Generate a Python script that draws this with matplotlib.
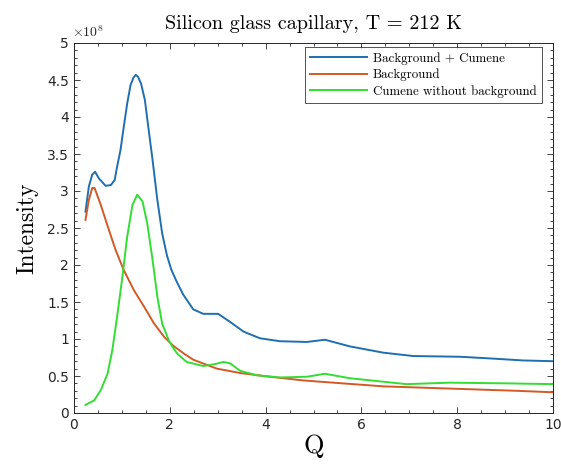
import numpy as np
import matplotlib
matplotlib.use("Agg")
import matplotlib.pyplot as plt
from matplotlib.ticker import MultipleLocator, FuncFormatter

# Background + Cumene  (intensity in units of 1e8)
q_blue = [0.24, 0.31, 0.38, 0.44, 0.52, 0.66, 0.77, 0.85, 0.90, 0.97, 1.04, 1.11, 1.18, 1.24,
          1.29, 1.34, 1.40, 1.48, 1.54, 1.64, 1.74, 1.84, 1.94, 2.03, 2.14, 2.28, 2.49, 2.70,
          3.01, 3.26, 3.54, 3.88, 4.30, 4.86, 5.24, 5.76, 6.46, 7.08, 8.06, 8.75, 9.38, 10.0]
i_blue = [2.72, 3.06, 3.22, 3.26, 3.17, 3.07, 3.08, 3.15, 3.33, 3.55, 3.87, 4.18, 4.43, 4.53,
          4.57, 4.54, 4.45, 4.23, 3.92, 3.42, 2.88, 2.43, 2.13, 1.94, 1.78, 1.60, 1.40, 1.34,
          1.34, 1.23, 1.10, 1.01, 0.97, 0.96, 0.99, 0.90, 0.815, 0.77, 0.76, 0.735, 0.71, 0.70]

# Background
q_red = [0.24, 0.31, 0.38, 0.43, 0.56, 0.70, 0.87, 1.04, 1.25, 1.46, 1.67, 1.88, 2.07, 2.30,
         2.49, 2.98, 3.47, 4.09, 4.79, 5.2, 6.46, 7.85, 9.24, 10.0]
i_red = [2.61, 2.88, 3.04, 3.04, 2.81, 2.53, 2.20, 1.93, 1.66, 1.44, 1.21, 1.03, 0.91, 0.80,
         0.72, 0.60, 0.54, 0.49, 0.44, 0.42, 0.36, 0.33, 0.30, 0.28]

# Cumene without background
q_green = [0.24, 0.42, 0.56, 0.70, 0.80, 0.90, 1.01, 1.11, 1.22, 1.32, 1.43, 1.53, 1.64, 1.74,
           1.84, 1.98, 2.07, 2.16, 2.35, 2.70, 2.94, 3.12, 3.26, 3.47, 3.81, 4.30, 4.86, 5.24,
           5.76, 6.94, 7.85, 9.1, 10.0]
i_green = [0.11, 0.17, 0.31, 0.53, 0.85, 1.30, 1.84, 2.38, 2.81, 2.95, 2.86, 2.56, 2.07, 1.57,
           1.21, 0.98, 0.88, 0.80, 0.69, 0.635, 0.66, 0.69, 0.67, 0.57, 0.51, 0.48, 0.49, 0.53,
           0.47, 0.39, 0.41, 0.40, 0.39]

labels = ["Background + Cumene", "Background", "Cumene without background"]
colors = ["#1f6fb0", "#d35a26", "#33dd33"]

plt.rcParams['mathtext.fontset'] = 'cm'
serif = 'cmr10'

fig = plt.figure(figsize=(5.61, 4.71), dpi=100)
ax = fig.add_axes([74/561, 1-413/471, (553-74)/561, (413-43)/471])

scale = 1e8
ax.plot(q_blue, np.array(i_blue)*scale, color=colors[0], lw=1.4, label=labels[0])
ax.plot(q_red, np.array(i_red)*scale, color=colors[1], lw=1.4, label=labels[1])
ax.plot(q_green, np.array(i_green)*scale, color=colors[2], lw=1.4, label=labels[2])

ax.set_xlim(0, 10)
ax.set_ylim(0, 5e8)
ax.xaxis.set_major_locator(MultipleLocator(2))
ax.xaxis.set_minor_locator(MultipleLocator(0.5))
ax.yaxis.set_major_locator(MultipleLocator(0.5e8))
ax.yaxis.set_minor_locator(MultipleLocator(0.1e8))
ax.yaxis.set_major_formatter(FuncFormatter(lambda v, p: f"{v/1e8:g}"))
ax.tick_params(which='both', direction='in', top=True, right=True, labelsize=10,
               colors='#262626', width=0.6)
ax.tick_params(which='major', length=4)
ax.tick_params(which='minor', length=2)
for s in ax.spines.values():
    s.set_linewidth(0.7)
    s.set_color('#262626')

ax.text(-0.005, 1.008, r'$\times10^{8}$', transform=ax.transAxes, fontsize=10,
        color='#262626', ha='left', va='bottom')

ax.set_title("Silicon glass capillary, T = 212 K", family=serif, fontsize=14.5, pad=10)
ax.set_xlabel("Q", family=serif, fontsize=19, labelpad=2)
ax.set_ylabel("Intensity", family=serif, fontsize=17, labelpad=6)

leg = ax.legend(loc='upper right', bbox_to_anchor=(0.977, 0.989), borderaxespad=0,
                prop={'family': serif, 'size': 9.3}, frameon=True,
                fancybox=False, edgecolor='#262626', handlelength=4.4,
                labelspacing=0.3, borderpad=0.4, handletextpad=0.5)
leg.get_frame().set_linewidth(0.7)

fig.savefig("out.png", dpi=100)
